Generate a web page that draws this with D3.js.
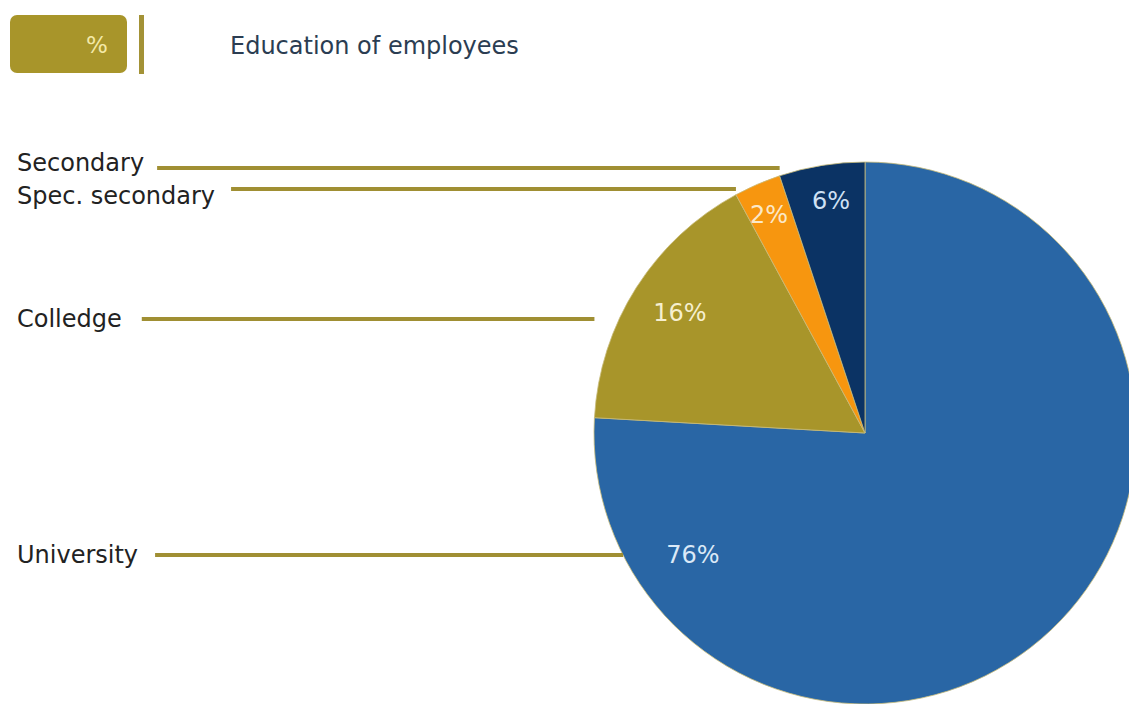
<!DOCTYPE html>
<html><head><meta charset="utf-8">
<script src="https://cdn.jsdelivr.net/npm/d3@7"></script>
<style>html,body{margin:0;padding:0;background:#fff;overflow:hidden}</style>
</head><body>
<svg id="c" width="1129" height="704"></svg>
<script>
// ---- data ----
const categories = ["University", "Colledge", "Spec. secondary", "Secondary"];
const shares = [75.9, 16.2, 2.8, 5.1];            // slice sizes
const valueLabels = ["76%", "16%", "2%", "6%"];   // labels printed on the slices
const titleText = "Education of employees";
const unitText = "%";

// ---- layout / style (kept apart from data) ----
const colors = ["#2966a5", "#a8952a", "#f7960f", "#0b3364"];
const labelColors = ["#dbe9f7", "#f6efcf", "#fbe8c8", "#cfe1f5"];
const leaderY = [555, 319, 189, 168];
const textY = [563, 327, 204, 171];
const lineGap = [17, 20, 16, 13];
const labelOffset = [[-172, 130], [-185, -112], [-96, -210], [-34, -224]];
const cx = 865, cy = 433, R = 271;
const font = "DejaVu Sans, Verdana, sans-serif";
const fs = 24;
const gold = "#a08f33";

const svg = d3.select("#c");

// header
svg.append("rect").attr("x", 10).attr("y", 15).attr("width", 117).attr("height", 58)
  .attr("rx", 7).attr("fill", "#a8952a");
svg.append("text").attr("x", 97).attr("y", 53).attr("text-anchor", "middle")
  .attr("font-family", font).attr("font-size", 23).attr("fill", "#f3e9a8").text(unitText);
svg.append("rect").attr("x", 139).attr("y", 15).attr("width", 5).attr("height", 59).attr("fill", "#a39236");
svg.append("text").attr("x", 230).attr("y", 54)
  .attr("font-family", font).attr("font-size", fs).attr("fill", "#2b3d52").text(titleText);

// pie
const pie = d3.pie().sort(null).value(d => d).startAngle(0).endAngle(2 * Math.PI);
const arcs = pie(shares);
const arc = d3.arc().innerRadius(0).outerRadius(R);
const g = svg.append("g").attr("transform", `translate(${cx},${cy})`);
g.selectAll("path").data(arcs).join("path")
  .attr("d", arc).attr("fill", (d, i) => colors[i])
  .attr("stroke", "#c8bb7a").attr("stroke-width", 0.8);

g.selectAll("text.v").data(arcs).join("text").attr("class", "v")
  .attr("x", (d, i) => labelOffset[i][0]).attr("y", (d, i) => labelOffset[i][1])
  .attr("text-anchor", "middle").attr("font-family", font).attr("font-size", fs)
  .attr("fill", (d, i) => labelColors[i]).text((d, i) => valueLabels[i]);

// category labels + leader lines
const pt = a => [cx + R * Math.sin(a), cy - R * Math.cos(a)];
arcs.forEach((d, i) => {
  const y = leaderY[i];
  const t = svg.append("text").attr("x", 17).attr("y", textY[i])
    .attr("font-family", font).attr("font-size", fs).attr("fill", "#222")
    .text(categories[i]);
  const bb = t.node().getBBox();
  const x0 = bb.x + bb.width + lineGap[i];
  const dy = cy - y;
  let x1 = cx - Math.sqrt(Math.max(0, R * R - dy * dy));
  // for the small top slices the line stops at the slice's outer left corner
  const a = i === 0 ? d.endAngle : d.startAngle;
  const corner = pt(a);
  if (y < corner[1]) x1 = Math.min(x1, corner[0]);
  svg.append("line").attr("x1", x0).attr("x2", x1).attr("y1", y).attr("y2", y)
    .attr("stroke", gold).attr("stroke-width", 4);
});
</script>
</body></html>
